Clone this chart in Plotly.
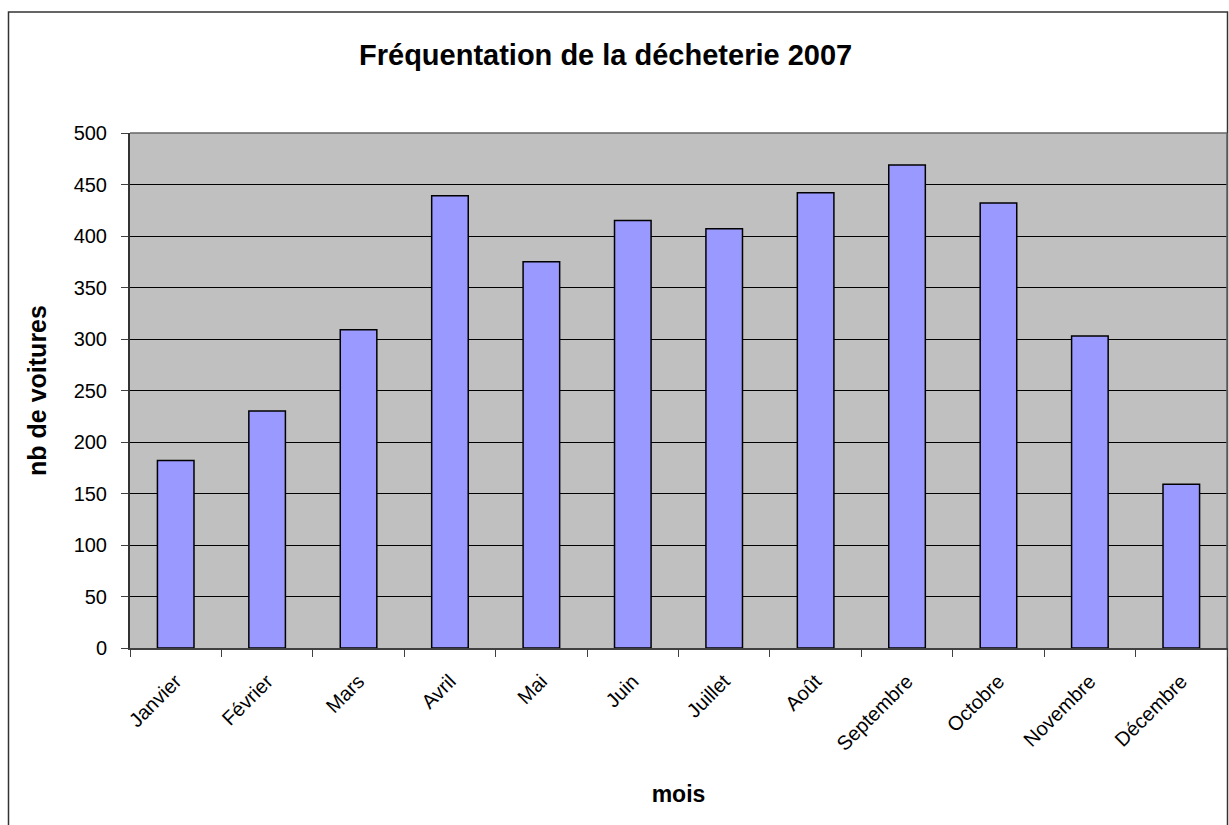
import plotly.graph_objects as go

mois = ["Janvier", "Février", "Mars", "Avril", "Mai", "Juin", "Juillet",
        "Août", "Septembre", "Octobre", "Novembre", "Décembre"]
voitures = [182, 230, 309, 439, 375, 415, 407, 442, 469, 432, 303, 159]

FONT = "Liberation Sans, Arial, sans-serif"

fig = go.Figure()
fig.add_trace(go.Bar(
    x=mois, y=voitures,
    marker=dict(color="#9999FF", line=dict(color="#000000", width=1.5)),
    width=0.4,
))

L, R, T, B = 130, 2, 133, 177
W, H = 1229, 825
pw = W - L - R
ph = H - T - B

def px_to_paper_x(px):
    return (px - L) / pw

def px_to_paper_y(py):
    return (H - B - py) / ph

fig.update_layout(
    width=W, height=H,
    margin=dict(l=L, r=R, t=T, b=B),
    paper_bgcolor="white",
    plot_bgcolor="#C0C0C0",
    showlegend=False,
    font=dict(family=FONT, color="black", size=20),
    xaxis=dict(
        type="category",
        tickangle=-45,
        tickson="boundaries",
        ticks="outside", ticklen=7, tickcolor="#404040", tickwidth=1,
        showline=True, linecolor="#404040", linewidth=1.5,
        showgrid=False,
        tickfont=dict(family=FONT, size=20),
        ticklabelstandoff=12,
        title=dict(text="<b>mois</b>", font=dict(family=FONT, size=23), standoff=32),
        range=[-0.5, 11.5],
    ),
    yaxis=dict(
        range=[0, 500], dtick=50, tick0=0,
        ticks="outside", ticklen=7, tickcolor="#404040", tickwidth=1,
        showline=True, linecolor="#333333", linewidth=2,
        showgrid=True, gridcolor="#000000", gridwidth=1,
        zeroline=False,
        tickfont=dict(family=FONT, size=20),
        ticklabelstandoff=10,
        title=dict(text="<b>nb de voitures</b>", font=dict(family=FONT, size=25), standoff=20),
    ),
    annotations=[
        dict(text="<b>Fréquentation de la décheterie 2007</b>",
             xref="paper", yref="paper",
             x=px_to_paper_x(605), y=px_to_paper_y(55),
             xanchor="center", yanchor="middle", showarrow=False,
             font=dict(family=FONT, size=29, color="black")),
    ],
    shapes=[
        dict(type="rect", xref="paper", yref="paper",
             x0=px_to_paper_x(8.5), x1=px_to_paper_x(1227.5),
             y0=px_to_paper_y(830), y1=px_to_paper_y(12),
             line=dict(color="#333333", width=1.5), fillcolor="rgba(0,0,0,0)",
             layer="below"),
        dict(type="line", xref="paper", yref="paper",
             x0=0, x1=1, y0=1, y1=1,
             line=dict(color="#666666", width=1.5)),
        dict(type="line", xref="paper", yref="paper",
             x0=1, x1=1, y0=0, y1=1,
             line=dict(color="#666666", width=1.5)),
    ],
)

fig.write_html("out.html",
               config={"displayModeBar": False},
               post_script="document.body.style.margin='0';document.body.style.padding='0';document.body.style.overflow='hidden';")
